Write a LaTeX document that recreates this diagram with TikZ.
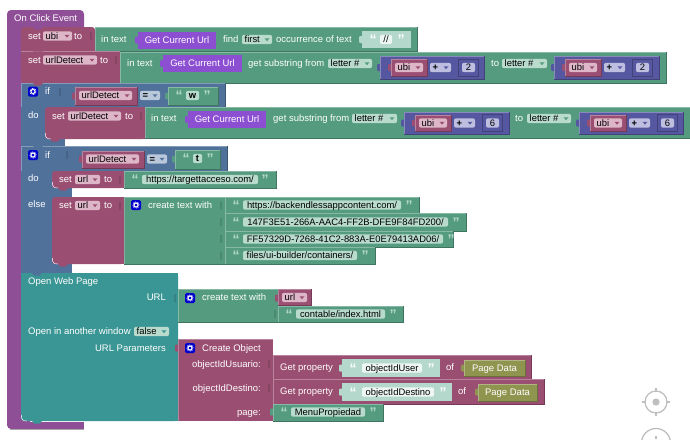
\documentclass[tikz,border=0pt]{standalone}
\usepackage{fontspec}
\setmainfont{Liberation Sans}
\definecolor{cev}{HTML}{8F4F96}
\definecolor{cvar}{HTML}{9A4E72}
\definecolor{cgrn}{HTML}{549B80}
\definecolor{cblu}{HTML}{50719A}
\definecolor{cind}{HTML}{5558A0}
\definecolor{cvio}{HTML}{8C4FD2}
\definecolor{ctea}{HTML}{3A9694}
\definecolor{coli}{HTML}{8F944F}
\definecolor{clig}{HTML}{B5D8CC}
\definecolor{fgrn}{HTML}{B8DBCE}
\definecolor{fvar}{HTML}{DDB6C8}
\definecolor{fblu}{HTML}{B9C7DA}
\definecolor{find}{HTML}{BDBEE0}
\definecolor{fwht}{HTML}{EDF6F3}
\newcount\nn
\tikzset{
 lbl/.style={text=white,font=\fontsize{9.5}{11}\selectfont,inner sep=0pt,anchor=base west},
 lblr/.style={lbl,anchor=base east},
 lblc/.style={lbl,anchor=base},
 fld/.style={text=black,font=\fontsize{9.4}{11}\selectfont,inner sep=0pt,anchor=base west},
 qt/.style={font=\bfseries\fontsize{14}{14}\selectfont,inner sep=0pt,anchor=center}
}
\newcommand{\stepn}{\global\advance\nn by 1 }
% block: x1 y1 x2 y2 colour
\newcommand{\blk}[5]{%
 \fill[#5] (#1,#2) rectangle (#3,#4);
 \draw[#5!70!white,line width=.5pt] (#1+.25,#4) -- (#1+.25,#2+.25) -- (#3,#2+.25);
 \draw[#5!75!black,line width=.5pt] (#3-.25,#2) -- (#3-.25,#4-.25) -- (#1,#4-.25);
}
% statement block with round left corners
\newcommand{\stb}[5]{%
 \fill[#5,rounded corners=3pt] (#1,#2) rectangle (#3,#4);
 \fill[#5] (#1+5,#2) rectangle (#3,#4);
 \draw[white,line width=.5pt] (#1+.3,#4-6) .. controls (#1+.3,#4-1) and (#1+2,#4) .. (#1+6,#4);
}
\newcommand{\tabb}[3]{\fill[#3,rounded corners=.8pt] (#1-2.8,#2-3.5) rectangle (#1+.5,#2+3.5);}
\newcommand{\hole}[3]{\fill[black!12!#3,rounded corners=.5pt] (#1-1,#2-4) rectangle (#1+1,#2+4);}
\newcommand{\bump}[3]{\fill[#3] (#1+4,#2-.2) -- (#1+6,#2+2.5) -- (#1+12,#2+2.5) -- (#1+14,#2-.2) -- cycle;}
\newcommand{\tx}[3]{\stepn\node[lbl] (n\the\nn) at (#1,#2+3) {#3};}
\newcommand{\txr}[3]{\stepn\node[lblr] (n\the\nn) at (#1,#2+3) {#3};}
% field: x1 x2 yc text bg arrowcolour
\newcommand{\dd}[6]{%
 \fill[#5,rounded corners=2pt] (#1,#3-4.7) rectangle (#2,#3+4.7);
 \stepn\node[fld] (n\the\nn) at (#1+2.5,#3+3.2) {#4};
 \fill[#6] (#2-7.5,#3-1.2) -- (#2-2.5,#3-1.2) -- (#2-5,#3+1.6) -- cycle;
}
\newcommand{\sfield}[5]{% x1 x2 yc text bg
 \fill[#5,rounded corners=2pt] (#1,#3-4.7) rectangle (#2,#3+4.7);
 \stepn\node[fld,anchor=base] (n\the\nn) at ({(#1+#2)/2},#3+3.2) {#4};
}
\newcommand{\qq}[3]{\stepn\node[qt,text=#3] (n\the\nn) at (#1,#2+.4) {“};}
\newcommand{\qc}[3]{\stepn\node[qt,text=#3] (n\the\nn) at (#1,#2+.4) {”};}
\newcommand{\gear}[2]{%
 \fill[blue!80!black,rounded corners=1.5pt] (#1,#2-5) rectangle (#1+10,#2+5);
 \draw[white,line width=1pt] (#1+5,#2) circle (2pt);
 \draw[white,line width=.7pt,dash pattern=on .8pt off .8pt] (#1+5,#2) circle (3.1pt);
}
\newcommand{\gcu}[3]{% x1 x2 yc
 \tabb{#1}{#3}{cvio}
 \fill[cvio] (#1,#3-8.5) rectangle (#2,#3+8.5);
 \stepn\node[lblc] (n\the\nn) at ({(#1+#2)/2},#3+3.2) {Get Current Url};
}
\newcommand{\calc}[4]{% x1 x2 yc n
 \tabb{#1}{#3}{cind}
 \blk{#1}{#3-11.5}{#2}{#3+11.5}{cind}
 \tabb{#1+11}{#3}{cvar}
 \blk{#1+11}{#3-8.5}{#1+47}{#3+8.5}{cvar}
 \dd{#1+15}{#1+43}{#3}{ubi}{fvar}{cvar}
 \dd{#1+50}{#1+71}{#3}{\textbf{+}}{find}{cind}
 \draw[cind!75!black,line width=.5pt] (#1+78,#3-8.5) rectangle (#1+98,#3+8.5);
 \sfield{#1+82}{#1+95}{#3}{#4}{find}
}
\begin{document}
\begin{tikzpicture}[x=1pt,y=-1pt]
\useasboundingbox (0,0) rectangle (690,439);
% event block
\fill[cev,rounded corners=4pt] (7,10) rectangle (84,30);
\fill[cev] (7,25) rectangle (84,27);
\fill[cev,rounded corners=4pt] (7,20) rectangle (30,429);
\fill[cev] (15,422) rectangle (84,429);
\fill[cev] (21,27) rectangle (30,422);
\fill[black!35] (10,429) rectangle (84,429.6);
\tx{14}{18.5}{On Click Event}
% --- set ubi
\blk{95}{27}{417}{51.5}{cgrn}
\fill[cvar,rounded corners=3pt] (21,27) rectangle (95,40);
\fill[cvar] (21,33) rectangle (95,51.5);
\bump{29}{27}{cev}
\tx{28}{36}{set}
\dd{43}{72}{36}{ubi}{fvar}{cvar}
\tx{74}{36}{to}
\hole{91}{36}{cvar}
\tx{101}{39.5}{in text}
\gcu{138}{216}{40}
\tx{223}{39.5}{find}
\dd{242}{272}{39.5}{first}{fgrn}{cgrn}
\tx{276}{39.5}{occurrence of text}
\tabb{362}{39.5}{clig}
\fill[clig] (362,31) rectangle (411,48);
\qq{373}{39.5}{white}
\sfield{380}{392}{39.5}{//}{fwht}
\qc{401}{39.5}{white}
% --- set urlDetect
\blk{120}{51.5}{666}{83}{cgrn}
\fill[cvar] (21,51.5) rectangle (120,83);
\draw[cvar!70!white,line width=.5pt] (21,51.7) -- (120,51.7);
\bump{29}{51.5}{cvar}
\tx{28}{60}{set}
\dd{43}{97}{60}{urlDetect}{fvar}{cvar}
\tx{100}{60}{to}
\hole{116}{60}{cvar}
\tx{127}{63}{in text}
\gcu{163}{242}{63.5}
\tx{248}{63}{get substring from}
\dd{328}{372}{63.5}{letter \#}{fgrn}{cgrn}
\calc{380}{484}{67.5}{2}
\tx{491}{63}{to}
\dd{502}{547}{63.5}{letter \#}{fgrn}{cgrn}
\calc{554}{659}{67.5}{2}
% --- if 1
\blk{21}{83}{225}{107}{cblu}
\fill[cblu] (21,107) rectangle (65,146);
\bump{29}{83}{cvar}
\gear{28}{91.5}
\tx{45}{91}{if}
\hole{60}{92}{cblu}
\tabb{75}{96}{cvar}
\blk{75}{87}{137}{105}{cvar}
\dd{79}{132}{95.5}{urlDetect}{fvar}{cvar}
\dd{140}{160}{95.5}{\textbf{=}}{fblu}{cblu}
\tabb{168}{96}{cgrn}
\blk{168}{87}{218}{105}{cgrn}
\qq{179}{95.5}{fgrn}
\sfield{186}{199}{95.5}{\textbf{w}}{fgrn}
\qc{207}{95.5}{fgrn}
\tx{28}{115}{do}
\blk{145}{107}{690}{138.5}{cgrn}
\stb{45}{107}{145}{139}{cvar}
\bump{46}{139}{cvar}
\tx{52}{116}{set}
\dd{68}{121}{116}{urlDetect}{fvar}{cvar}
\tx{125}{116}{to}
\hole{141}{116}{cvar}
\tx{151}{118.5}{in text}
\gcu{188}{266}{119.5}
\tx{273}{118.5}{get substring from}
\dd{352}{397}{118.5}{letter \#}{fgrn}{cgrn}
\calc{404}{509}{123}{6}
\tx{515}{118.5}{to}
\dd{527}{571}{118.5}{letter \#}{fgrn}{cgrn}
\calc{579}{683}{123}{6}
% --- if 2
\blk{21}{146}{227}{171}{cblu}
\fill[cblu] (21,171) rectangle (72,273);
\bump{29}{146}{cblu}
\gear{28}{155}
\tx{45}{155}{if}
\hole{67}{155}{cblu}
\tabb{82}{159}{cvar}
\blk{82}{151}{144}{168}{cvar}
\dd{86}{139}{159}{urlDetect}{fvar}{cvar}
\dd{147}{167}{159}{\textbf{=}}{fblu}{cblu}
\tabb{175}{159}{cgrn}
\blk{175}{150}{220}{169}{cgrn}
\qq{186}{158.5}{fgrn}
\sfield{193}{202}{158.5}{\textbf{t}}{fgrn}
\qc{210}{158.5}{fgrn}
\tx{28}{178}{do}
\blk{124}{171}{276}{188}{cgrn}
\stb{52}{171}{124}{188}{cvar}
\bump{54}{188}{cvar}
\tx{59}{179.5}{set}
\dd{75}{100}{179.5}{url}{fvar}{cvar}
\tx{104}{179.5}{to}
\hole{120}{179.5}{cvar}
\qq{135}{179.5}{fgrn}
\sfield{142}{258}{179.5}{https://targettacceso.com/}{fgrn}
\qc{265}{179.5}{fgrn}
\tx{28}{204}{else}
\blk{124}{197}{225}{264}{cgrn}
\stb{52}{197}{124}{264}{cvar}
\bump{54}{264}{cvar}
\tx{59}{205.5}{set}
\dd{75}{100}{205.5}{url}{fvar}{cvar}
\tx{104}{205.5}{to}
\hole{120}{205.5}{cvar}
\gear{131}{205}
\tx{148}{205.5}{create text with}
\hole{221}{205.5}{cgrn}
\blk{225}{197}{419}{213}{cgrn}
\qq{236}{205}{fgrn}
\sfield{243}{401}{205}{https://backendlessappcontent.com/}{fgrn}
\qc{409}{205}{fgrn}
\hole{221}{222}{cgrn}
\blk{225}{213}{466}{231}{cgrn}
\qq{236}{222}{fgrn}
\sfield{243}{448}{222}{147F3E51-266A-AAC4-FF2B-DFE9F84FD200/}{fgrn}
\qc{456}{222}{fgrn}
\hole{221}{239}{cgrn}
\blk{225}{231}{453}{247}{cgrn}
\qq{236}{239}{fgrn}
\sfield{243}{443}{239}{FF57329D-7268-41C2-883A-E0E79413AD06/}{fgrn}
\qc{451}{239}{fgrn}
\hole{221}{255.5}{cgrn}
\blk{225}{247}{375}{264}{cgrn}
\qq{236}{255.5}{fgrn}
\sfield{243}{357}{255.5}{files/ui-builder/containers/}{fgrn}
\qc{365}{255.5}{fgrn}
% --- open web page
\stb{21}{273}{178}{421}{ctea}
\fill[ctea] (21,273) rectangle (178,280);
\bump{28}{273}{cblu}
\bump{28}{421}{ctea}
\tx{28}{281}{Open Web Page}
\txr{166}{297}{URL}
\hole{175}{298}{ctea}
\blk{178}{289}{278}{322}{cgrn}
\gear{185}{298}
\tx{202}{297.5}{create text with}
\tabb{278}{298}{cvar}
\blk{278}{289}{311}{305}{cvar}
\dd{282}{307}{297.5}{url}{fvar}{cvar}
\hole{275}{314}{cgrn}
\blk{278}{306}{403}{322}{cgrn}
\qq{289}{314}{fgrn}
\sfield{296}{385}{314}{contable/index.html}{fgrn}
\qc{393}{314}{fgrn}
\tx{28}{331}{Open in another window}
\dd{134}{169}{331.5}{false}{fgrn}{ctea}
\txr{166}{348}{URL Parameters}
\tabb{178}{348}{cvar}
\fill[cvar] (178,339) rectangle (273,421);
\draw[cvar!70!white,line width=.5pt] (178.3,421) -- (178.3,339.3) -- (273,339.3);
\gear{185}{348}
\tx{202}{348}{Create Object}
\txr{261}{364}{objectIdUsuario:}
\txr{261}{388}{objectIdDestino:}
\txr{261}{412.5}{page:}
\hole{269}{364}{cvar}
\hole{269}{388}{cvar}
% get property 1
\blk{273}{355}{531}{379}{cvar}
\tx{280}{367}{Get property}
\tabb{342}{368}{clig}
\fill[clig] (342,359) rectangle (440,377);
\qq{353}{368}{white}
\sfield{362}{422}{368}{objectIdUser}{fwht}
\qc{431}{368}{white}
\tx{446}{367}{of}
\tabb{464}{368}{coli}
\blk{464}{360}{525}{376}{coli}
\stepn\node[lblc] (n\the\nn) at (494.5,371.2) {Page Data};
% get property 2
\blk{273}{379}{544}{404}{cvar}
\tx{280}{391}{Get property}
\tabb{342}{392}{clig}
\fill[clig] (342,383) rectangle (452,401);
\qq{353}{392}{white}
\sfield{362}{434}{392}{objectIdDestino}{fwht}
\qc{443}{392}{white}
\tx{458}{391}{of}
\tabb{478}{392}{coli}
\blk{478}{384}{537}{401}{coli}
\stepn\node[lblc] (n\the\nn) at (507.5,395.2) {Page Data};
% page
\tabb{273}{412}{cgrn}
\blk{273}{404}{383}{421}{cgrn}
\qq{284}{412}{fgrn}
\sfield{291}{365}{412}{MenuPropiedad}{fgrn}
\qc{373}{412}{fgrn}
% controls
\draw[black!25,line width=1.3pt] (656,402) circle (11pt);
\fill[black!25] (656,402) circle (3.6pt);
\foreach \a/\b/\c/\d in {656/388/656/392,656/412/656/416,642/402/646/402,666/402/670/402}
  \draw[black!25,line width=1.2pt] (\a,\b) -- (\c,\d);
\begin{scope}
\clip (630,420) rectangle (690,439);
\draw[black!25,line width=1.3pt] (656,443) circle (14.5pt);
\draw[black!25,line width=1.2pt] (656,436) -- (656,439);
\end{scope}
\end{tikzpicture}
\end{document}
